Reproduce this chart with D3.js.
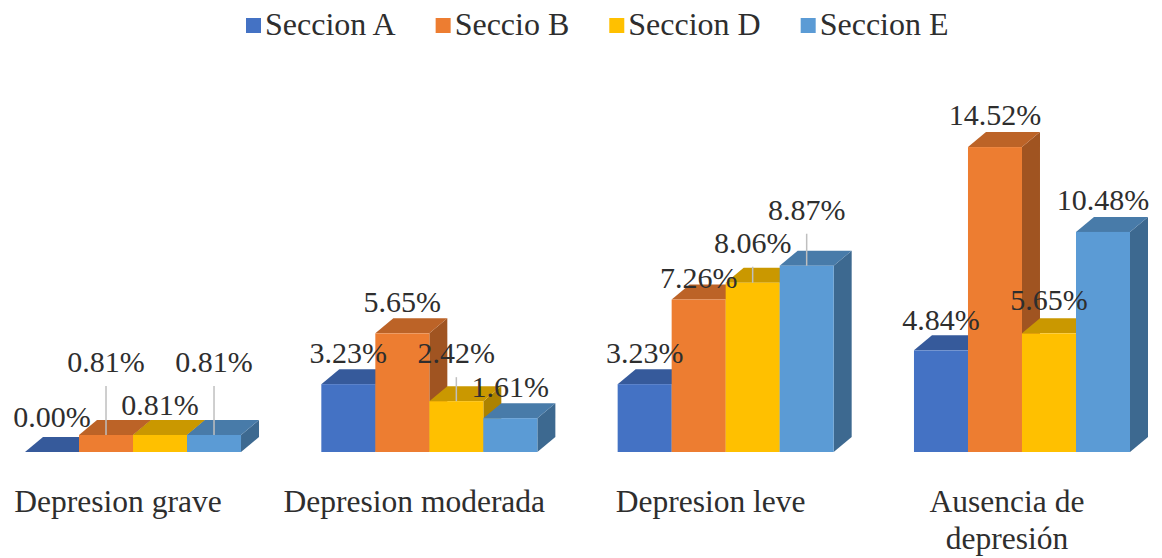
<!DOCTYPE html>
<html>
<head>
<meta charset="utf-8">
<script src="https://cdn.jsdelivr.net/npm/d3@7"></script>
</head>
<body style="margin:0">
<svg id="chart" width="1162" height="558"></svg>
<script>
// Categories (x axis) and series
const categories = ["Depresion grave", "Depresion moderada", "Depresion leve", "Ausencia de depresión"];
const categoryLines = [["Depresion grave"], ["Depresion moderada"], ["Depresion leve"], ["Ausencia de", "depresión"]];
const seriesNames = ["Seccion A", "Seccio B", "Seccion D", "Seccion E"];

// Percent values per series, in category order
const seccionA = [0.00, 3.23, 3.23, 4.84];
const seccioB  = [0.81, 5.65, 7.26, 14.52];
const seccionD = [0.81, 2.42, 8.06, 5.65];
const seccionE = [0.81, 1.61, 8.87, 10.48];
const seriesValues = [seccionA, seccioB, seccionD, seccionE];

const colors = ["#4472C4", "#ED7D31", "#FFC000", "#5B9BD5"];

// Distance from bar top to label baseline (px); larger ones get a leader line
const labelGap = [
  [25, 63, 20, 63],
  [21, 21, 38, 21],
  [21, 12, 30, 46],
  [20, 22, 23, 22]
];

const FONT = '"Nimbus Roman", "Times New Roman", Tinos, FreeSerif, "Liberation Serif"';
const TEXT_COLOR = "#2e2e2e";

const svg = d3.select("#chart");
const depthX = 18, depthY = -15;

const x0 = d3.scaleBand().domain(categories).range([25, 1130]).paddingInner(0.271).paddingOuter(0);
const x1 = d3.scaleBand().domain(seriesNames).range([0, x0.bandwidth()]);
const y = d3.scaleLinear().domain([0, 15]).range([452, 137]);

// Flatten to bar records
const bars = [];
categories.forEach((c, ci) => {
  seriesNames.forEach((s, si) => {
    bars.push({ c, ci, s, si, v: seriesValues[si][ci] });
  });
});

// Draw bars left to right so each bar hides the side face of the one before it
bars.forEach(d => {
  const xl = x0(d.c) + x1(d.s);
  const w = x1.bandwidth();
  const yt = y(d.v), yb = y(0);
  const base = d3.color(colors[d.si]);
  // right side face
  svg.append("path")
    .attr("d", `M${xl + w},${yb} L${xl + w + depthX},${yb + depthY} L${xl + w + depthX},${yt + depthY} L${xl + w},${yt} Z`)
    .attr("fill", base.darker(1.1));
  // top face
  svg.append("path")
    .attr("d", `M${xl},${yt} L${xl + depthX},${yt + depthY} L${xl + w + depthX},${yt + depthY} L${xl + w},${yt} Z`)
    .attr("fill", base.darker(0.65));
  // front face
  svg.append("rect")
    .attr("x", xl).attr("y", yt)
    .attr("width", w).attr("height", yb - yt)
    .attr("fill", base);
});

// Data labels with leader lines for the raised ones
bars.forEach(d => {
  const cx = x0(d.c) + x1(d.s) + x1.bandwidth() / 2;
  const gap = labelGap[d.ci][d.si];
  const by = y(d.v) - gap;
  if (gap > 28) {
    svg.append("line")
      .attr("x1", cx).attr("x2", cx)
      .attr("y1", by + 14).attr("y2", y(d.v))
      .attr("stroke", "#bfbfbf").attr("stroke-width", 1.5);
  }
  svg.append("text")
    .attr("x", cx).attr("y", by)
    .attr("text-anchor", "middle")
    .attr("font-size", 30)
    .attr("fill", TEXT_COLOR)
    .style("font-family", FONT)
    .text(d.v.toFixed(2) + "%");
});

// Category labels
categories.forEach((c, ci) => {
  const cx = x0(c) + x0.bandwidth() / 2 - 15;
  categoryLines[ci].forEach((line, li) => {
    svg.append("text")
      .attr("x", cx).attr("y", 512 + li * 37)
      .attr("text-anchor", "middle")
      .attr("font-size", 31.5)
      .attr("fill", TEXT_COLOR)
      .style("font-family", FONT)
      .text(line);
  });
});

// Legend
let lx = 246;
seriesNames.forEach((s, si) => {
  svg.append("rect")
    .attr("x", lx).attr("y", 18).attr("width", 15).attr("height", 15)
    .attr("fill", colors[si]);
  const t = svg.append("text")
    .attr("x", lx + 19).attr("y", 35)
    .attr("font-size", 32)
    .attr("fill", TEXT_COLOR)
    .style("font-family", FONT)
    .text(s);
  lx += 19 + t.node().getComputedTextLength() + 40;
});
</script>
</body>
</html>
